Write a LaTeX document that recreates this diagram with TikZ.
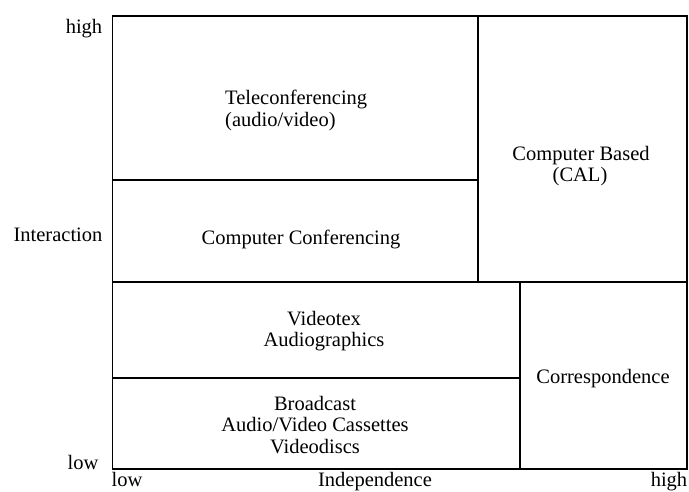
\documentclass[tikz,border=0pt]{standalone}
\usepackage{fontspec}
\setmainfont{Liberation Serif}
\tikzset{
  grid/.style={line width=1.6pt, line cap=rect},
  lbl/.style={inner sep=0pt, anchor=base, font=\fontsize{20.5}{22}\selectfont}
}
\begin{document}
\begin{tikzpicture}[x=1pt,y=-1pt]
\useasboundingbox (0,0) rectangle (689,492);
% frame and partitions
\draw[grid] (112.5,16) rectangle (687,469);
\draw[grid] (112.5,180) -- (478,180);
\draw[grid] (478,16) -- (478,282);
\draw[grid] (112.5,282) -- (687,282);
\draw[grid] (520,282) -- (520,469);
\draw[grid] (112.5,378) -- (520,378);
% block texts
\node[lbl, anchor=base west] (tc1) at (225,105) {Teleconferencing};
\node[lbl, anchor=base west] (tc2) at (225,127) {(audio/video)};
\node[lbl] (cb1) at (581,160.5) {Computer Based};
\node[lbl] (cb2) at (580,181.5) {(CAL)};
\node[lbl] (cc) at (301,245) {Computer Conferencing};
\node[lbl] (vt1) at (324,325.5) {Videotex};
\node[lbl] (vt2) at (324,346) {Audiographics};
\node[lbl] (cr) at (603,383) {Correspondence};
\node[lbl] (bc1) at (315,410.5) {Broadcast};
\node[lbl] (bc2) at (315,431.5) {Audio/Video Cassettes};
\node[lbl] (bc3) at (315,453) {Videodiscs};
% axis labels
\node[lbl] (yhigh) at (84,34) {high};
\node[lbl] (ylab) at (58,241.5) {Interaction};
\node[lbl] (ylow) at (83,469) {low};
\node[lbl] (xlow) at (127,486.5) {low};
\node[lbl] (xlab) at (375,486.5) {Independence};
\node[lbl] (xhigh) at (669,486.5) {high};
\end{tikzpicture}
\end{document}
